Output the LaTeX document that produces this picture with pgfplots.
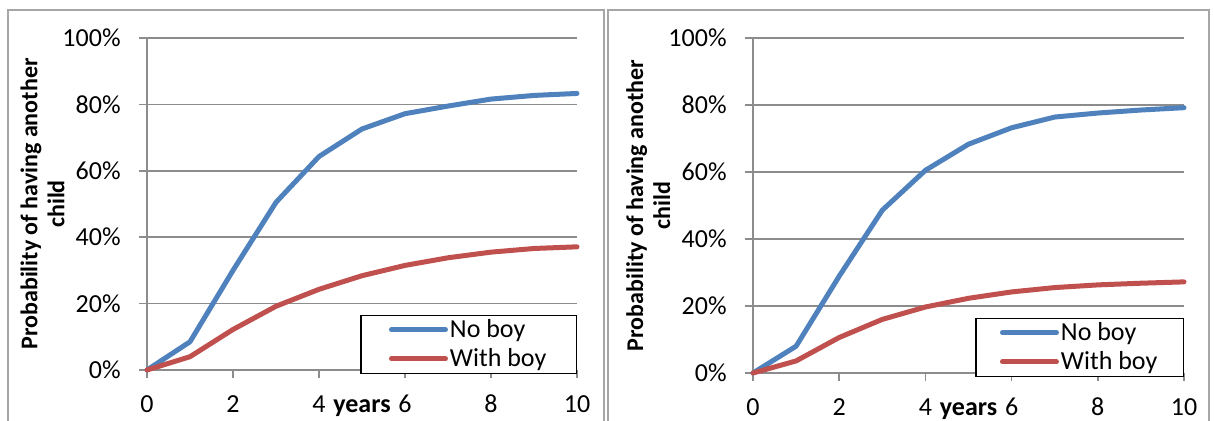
\documentclass[border=0pt]{standalone}
\usepackage{fontspec}
\setmainfont{Carlito}
\usepackage{pgfplots}
\pgfplotsset{compat=1.18}
\definecolor{cblue}{HTML}{4F81BD}
\definecolor{cred}{HTML}{C0504D}
\definecolor{cgrid}{HTML}{8C8C8C}
\definecolor{cframe}{HTML}{A6A6A6}
\pgfplotsset{
  panel/.style={
    scale only axis,
    width=215bp, height=166bp,
    xmin=0, xmax=10, ymin=0, ymax=100,
    axis x line=bottom, axis y line=left,
    axis line style={-, draw=cgrid, line width=0.75bp},
    xtick={0,2,...,10}, ytick={0,20,...,100},
    yticklabel={\pgfmathprintnumber{\tick}\%},
    /pgf/number format/assume math mode=true,
    tick align=outside, major tick length=4bp,
    tick style={draw=cgrid, line width=0.75bp},
    ymajorgrids, grid style={draw=cgrid, line width=0.75bp},
    ticklabel style={font=\fontsize{13bp}{15bp}\selectfont},
    xticklabel style={anchor=base, yshift=-17bp, inner sep=0pt},
    yticklabel style={anchor=east, inner sep=0pt, xshift=-9bp},
    xlabel={years},
    xlabel style={at={(rel axis cs:0.5,0)}, anchor=base, yshift=-21bp, inner sep=0pt, font=\bfseries\fontsize{13bp}{15bp}\selectfont},
    ylabel={Probability of having another\\child},
    ylabel style={at={(rel axis cs:-0.243,0.5)}, anchor=center, rotate=0, align=center, font=\bfseries\fontsize{12bp}{13.5bp}\selectfont},
    legend style={at={(1,0)}, anchor=south east, yshift=-2bp, draw=black, line width=0.7bp,
      font=\fontsize{13bp}{15bp}\selectfont, inner xsep=14bp, inner ysep=1.5bp, row sep=3bp,
      cells={anchor=west}, nodes={inner xsep=1bp, inner ysep=0.5bp}},
    legend image code/.code={\draw[#1, line cap=round] (0bp,0bp) -- (27bp,0bp);},
    every axis plot/.append style={line width=2.5bp, line join=round, line cap=round, no marks},
    clip=false,
  }
}
\begin{document}
\begin{tikzpicture}
\useasboundingbox (0,0) rectangle (607bp,210.5bp);
\clip (0,0) rectangle (607bp,210.5bp);
\begin{axis}[panel, at={(73.5bp,25.5bp)}, anchor=origin]
\addplot[cblue] coordinates {(0,0) (1,8.5) (2,30) (3,50.5) (4,64.3) (5,72.6) (6,77.2) (7,79.5) (8,81.6) (9,82.7) (10,83.3)};
\addlegendentry{No boy}
\addplot[cred] coordinates {(0,0) (1,4) (2,12.2) (3,19.2) (4,24.3) (5,28.4) (6,31.5) (7,33.8) (8,35.5) (9,36.6) (10,37.1)};
\addlegendentry{With boy}
\end{axis}
\begin{axis}[panel, at={(376.5bp,24bp)}, anchor=origin, width=215.5bp, height=167.5bp,
  legend style={inner xsep=12bp}]
\addplot[cblue] coordinates {(0,0) (1,8) (2,28.9) (3,48.6) (4,60.5) (5,68.3) (6,73.2) (7,76.4) (8,77.6) (9,78.5) (10,79.2)};
\addlegendentry{No boy}
\addplot[cred] coordinates {(0,0) (1,3.6) (2,10.6) (3,16) (4,19.7) (5,22.3) (6,24.2) (7,25.5) (8,26.3) (9,26.8) (10,27.2)};
\addlegendentry{With boy}
\end{axis}
\draw[cframe, line width=1bp] (4bp,-10bp) -- (4bp,205.5bp) -- (302bp,205.5bp) -- (302bp,-10bp);
\draw[cframe, line width=1bp] (304bp,-10bp) -- (304bp,205.5bp) -- (604.5bp,205.5bp) -- (604.5bp,-10bp);
\end{tikzpicture}
\end{document}
